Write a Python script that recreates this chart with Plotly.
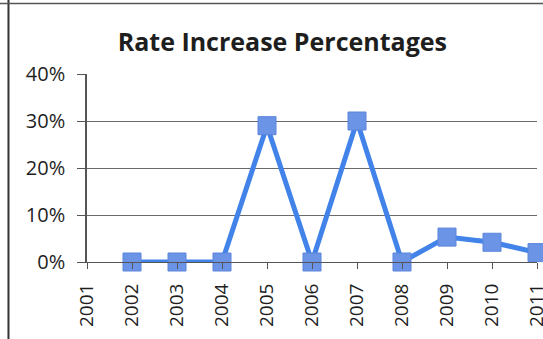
import plotly.graph_objects as go

years = [2001, 2002, 2003, 2004, 2005, 2006, 2007, 2008, 2009, 2010, 2011]
rates = [None, 0.0, 0.0, 0.0, 0.29, 0.0, 0.30, 0.0, 0.053, 0.042, 0.02]
y_ticks = [0, 0.1, 0.2, 0.3, 0.4]
title = "Rate Increase Percentages"

font_family = "'Open Sans', Lato, sans-serif"
text_color = "#1e1e1e"
axis_color = "#555555"

fig = go.Figure()
fig.add_trace(go.Scatter(
    x=years, y=rates, mode="lines+markers",
    line=dict(color="#4283ea", width=5),
    marker=dict(symbol="square", size=18, color="#6b93e6",
                line=dict(color="#5a86dc", width=1)),
    cliponaxis=False, connectgaps=False, showlegend=False,
))

fig.update_layout(
    width=543, height=339,
    margin=dict(l=87, r=6, t=74, b=77, autoexpand=False),
    paper_bgcolor="white", plot_bgcolor="white",
    font=dict(family=font_family, color=text_color, size=19),
    title=dict(text=f"<b>{title}</b>", x=0.52, xanchor="center",
               y=0.875, yanchor="middle",
               font=dict(size=25, family=font_family, color=text_color)),
    shapes=[
        dict(type="line", xref="paper", yref="paper",
             x0=-0.1745, x1=-0.1745, y0=-1, y1=2,
             line=dict(color="#333333", width=2)),
        dict(type="line", xref="paper", yref="paper",
             x0=-0.2, x1=1.2, y0=1.375, y1=1.375,
             line=dict(color="#555555", width=1.5)),
    ],
)

fig.update_xaxes(
    range=[2001, 2011], tickmode="array", tickvals=years,
    ticktext=[str(y) for y in years], tickangle=-90,
    showgrid=False, showline=True, linecolor=axis_color, linewidth=1,
    ticks="outside", ticklen=6, tickcolor=axis_color,
    ticklabeloverflow="allow", automargin=False, ticklabelstandoff=7,
    tickfont=dict(size=19, color=text_color), zeroline=False,
)
fig.update_yaxes(
    range=[0, 0.4], tickvals=y_ticks, tickformat=".0%",
    showgrid=True, gridcolor="#6a6a6a", gridwidth=1,
    showline=True, linecolor=axis_color, linewidth=1.5,
    ticks="outside", ticklen=8, tickcolor=axis_color,
    ticklabelstandoff=8, automargin=False,
    tickfont=dict(size=20, color=text_color), zeroline=False,
)

fig.write_html("out.html")
